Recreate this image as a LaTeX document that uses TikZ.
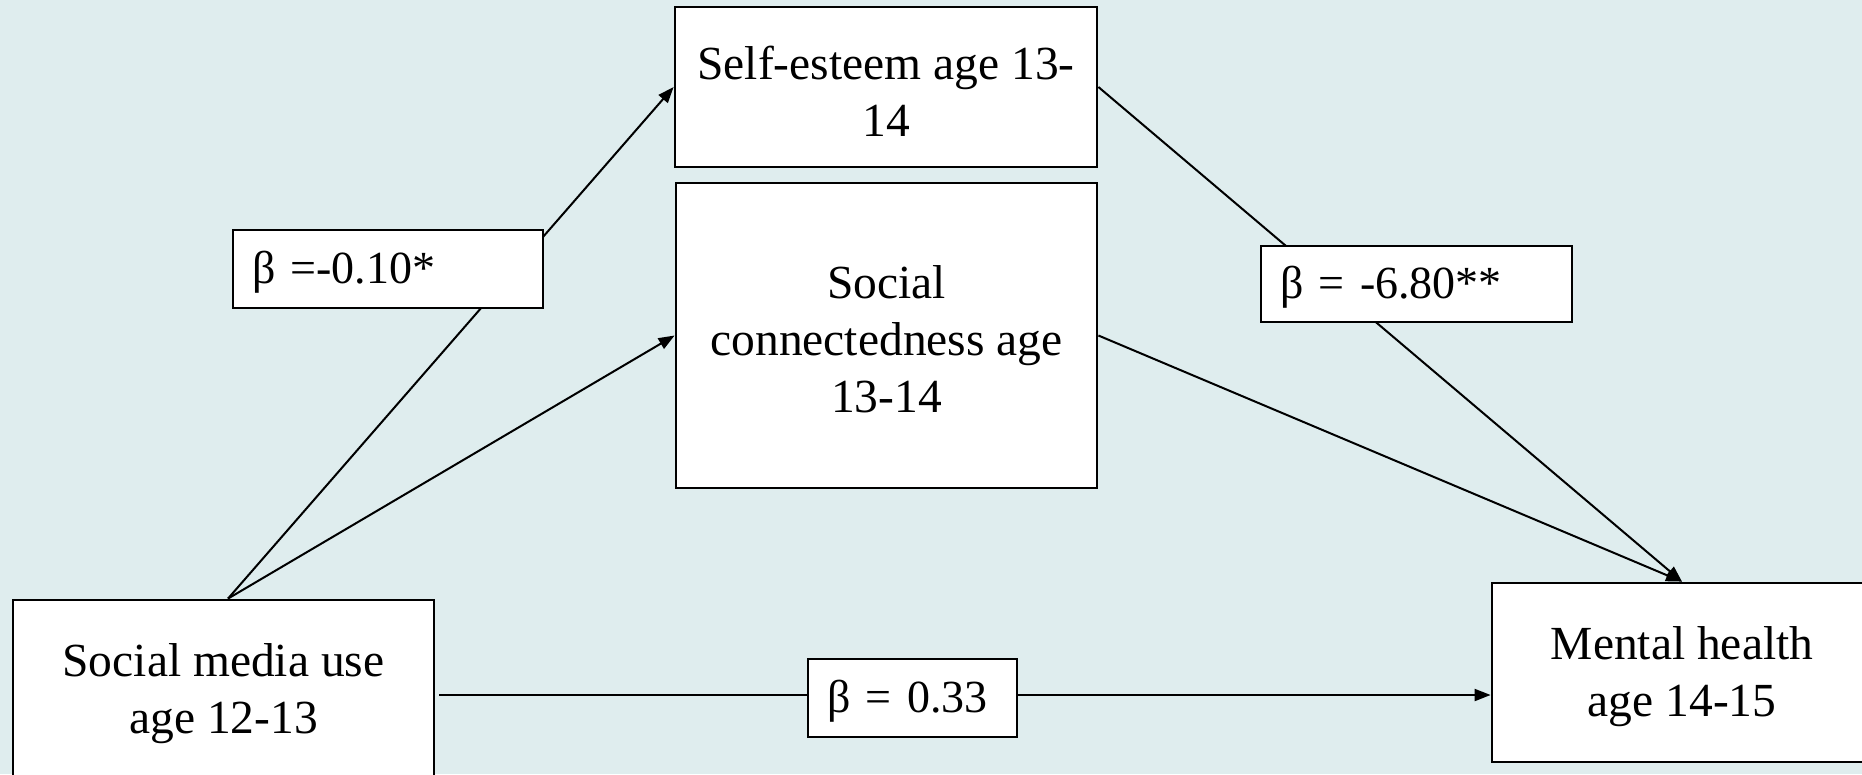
\documentclass[tikz,border=0pt]{standalone}
\usepackage{fontspec}
\setmainfont{Liberation Serif}
\usetikzlibrary{arrows.meta,calc}
\definecolor{bgcol}{RGB}{223,237,238}
\newcommand\myvstrut{\rule{0pt}{41pt}}
\newcommand\mylstrut{\rule{0pt}{38.5pt}}
\begin{document}
\begin{tikzpicture}[x=1pt,y=-1pt,
  varbox/.style={draw=black,line width=2.8pt,fill=white,inner sep=0pt,align=center,
    font=\fontsize{47.5}{57}\selectfont},
  betabox/.style={draw=black,line width=2pt,fill=white,inner ysep=0pt,inner xsep=19pt,align=left,
    font=\fontsize{46}{55}\selectfont},
  conn/.style={line width=2pt,-{Triangle[length=16pt,width=12pt]}}]
\fill[bgcol] (0,0) rectangle (1862,774);
\useasboundingbox (0,0) rectangle (1862,774);
\clip (0,0) rectangle (1862,774);
\node[varbox,minimum width=421pt,minimum height=179pt] (sm) at (223.5,689.5) {\myvstrut Social media use\\age 12-13};
\node[varbox,minimum width=380pt,minimum height=179pt] (mh) at (1682,672.5) {\myvstrut Mental health\\age 14-15};
\node[varbox,minimum width=422pt,minimum height=160pt] (se) at (886,87) {\myvstrut Self-esteem age 13-\\14};
\node[varbox,minimum width=421pt,minimum height=305pt] (sc) at (886.5,335.5) {\myvstrut Social\\connectedness age\\13-14};
\coordinate (hs) at ($(sm.east)+(4,5.5)$);
\coordinate (he) at (hs -| mh.west);
\draw[conn] ($(sm.north)+(4.5,0)$) -- (se.west);
\draw[conn] ($(sm.north)+(4.5,0)$) -- (sc.west);
\draw[conn] (se.east) -- (mh.north);
\draw[conn] (sc.east) -- (mh.north);
\draw[conn] (hs) -- (he);
\node[betabox,text width=272pt,minimum height=78pt] (l1) at (388,269) {\mylstrut β =-0.10*};
\node[betabox,text width=273pt,minimum height=76pt] (l2) at (1416.5,284) {\mylstrut β = -6.80**};
\node[betabox,text width=171pt,minimum height=78pt] (l3) at (912.5,698) {\mylstrut β = 0.33};
\end{tikzpicture}
\end{document}
